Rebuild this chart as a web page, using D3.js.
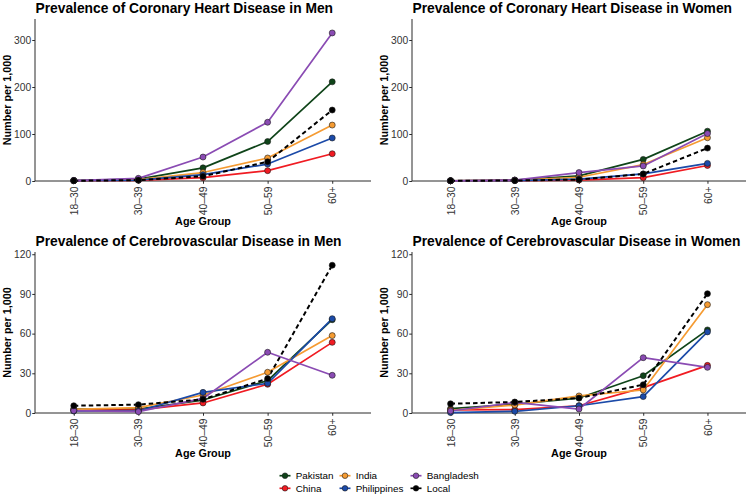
<!DOCTYPE html>
<html>
<head>
<meta charset="utf-8">
<script src="https://cdn.jsdelivr.net/npm/d3@7"></script>
<style>
  html, body { margin: 0; padding: 0; background: #fff; }
  svg { display: block; font-family: "Liberation Sans", Arial, Helvetica, sans-serif; }
</style>
</head>
<body>
<svg id="chart" width="750" height="495"></svg>
<script>
// ---------- data ----------
const ageGroups = ["18\u201330", "30\u201339", "40\u201349", "50\u201359", "60+"];
const seriesNames = ["Pakistan", "China", "India", "Philippines", "Bangladesh", "Local"];
const seriesColors = ["#0f4419", "#f01b22", "#f59b32", "#1b4aa8", "#8a4bb3", "#000000"];

const chdYTicks = [0, 100, 200, 300];
const cvdYTicks = [0, 30, 60, 90, 120];

// Coronary heart disease, men (per 1,000)
const chdMenPakistan    = [1, 4, 28, 84, 211];
const chdMenChina       = [0.5, 1.5, 7, 22, 58];
const chdMenIndia       = [1, 3, 18, 49, 119];
const chdMenPhilippines = [1, 2, 13.5, 36, 91.5];
const chdMenBangladesh  = [1, 5.7, 51, 125, 315];
const chdMenLocal       = [0.5, 2, 10, 41, 151];

// Coronary heart disease, women
const chdWomenPakistan    = [0.5, 2, 11, 46, 106];
const chdWomenChina       = [0.5, 1, 2, 7, 33];
const chdWomenIndia       = [0.5, 1.5, 8, 35, 92];
const chdWomenPhilippines = [0.5, 1, 4, 15, 37.5];
const chdWomenBangladesh  = [0.5, 2, 18, 32, 101];
const chdWomenLocal       = [0.5, 1, 3, 15, 70];

// Cerebrovascular disease, men
const cvdMenPakistan    = [3, 3, 9.8, 24.5, 70.5];
const cvdMenChina       = [2, 2.3, 7.6, 21.7, 53.4];
const cvdMenIndia       = [2.8, 4, 13.6, 30.8, 58.5];
const cvdMenPhilippines = [1.5, 1.5, 15.6, 22.4, 71.3];
const cvdMenBangladesh  = [1.8, 1, 11, 45.9, 28.5];
const cvdMenLocal       = [5.5, 6.3, 10.3, 26, 111.7];

// Cerebrovascular disease, women
const cvdWomenPakistan    = [3.3, 6.6, 11.3, 28.2, 62.8];
const cvdWomenChina       = [2.3, 2.5, 5.5, 19.2, 36];
const cvdWomenIndia       = [2, 6, 12.9, 17.4, 81.9];
const cvdWomenPhilippines = [0.3, 1.3, 5.5, 12.4, 61.3];
const cvdWomenBangladesh  = [1.5, 8, 3, 41.8, 34.5];
const cvdWomenLocal       = [7, 8.3, 11.3, 21.4, 90.2];

const panels = [
  { title: "Prevalence of Coronary Heart Disease in Men", ticks: chdYTicks, ymax: 344.7,
    values: [chdMenPakistan, chdMenChina, chdMenIndia, chdMenPhilippines, chdMenBangladesh, chdMenLocal],
    box: { x0: 35, x1: 371, y0: 19, y1: 181 } },
  { title: "Prevalence of Coronary Heart Disease in Women", ticks: chdYTicks, ymax: 344.7,
    values: [chdWomenPakistan, chdWomenChina, chdWomenIndia, chdWomenPhilippines, chdWomenBangladesh, chdWomenLocal],
    box: { x0: 412, x1: 746, y0: 19, y1: 181 } },
  { title: "Prevalence of Cerebrovascular Disease in Men", ticks: cvdYTicks, ymax: 121.7,
    values: [cvdMenPakistan, cvdMenChina, cvdMenIndia, cvdMenPhilippines, cvdMenBangladesh, cvdMenLocal],
    box: { x0: 35, x1: 371, y0: 252, y1: 413 } },
  { title: "Prevalence of Cerebrovascular Disease in Women", ticks: cvdYTicks, ymax: 121.7,
    values: [cvdWomenPakistan, cvdWomenChina, cvdWomenIndia, cvdWomenPhilippines, cvdWomenBangladesh, cvdWomenLocal],
    box: { x0: 412, x1: 746, y0: 252, y1: 413 } }
];

const svg = d3.select("#chart");
const axisColor = "#2b2b2b";
const tickTextColor = "#333333";

panels.forEach(p => {
  const b = p.box;
  const x = d3.scalePoint().domain(ageGroups).range([b.x0, b.x1]).padding(0.6);
  const y = d3.scaleLinear().domain([0, p.ymax]).range([b.y1, b.y0]);
  const g = svg.append("g");

  // title
  g.append("text")
    .attr("x", b.x0 + 0.5).attr("y", b.y0 - 6.3)
    .attr("font-size", 13.8).attr("font-weight", "bold").attr("fill", "#000")
    .text(p.title);

  // y axis
  const ya = g.append("g").attr("transform", `translate(${b.x0},0)`)
    .call(d3.axisLeft(y).tickValues(p.ticks).tickSize(2.75).tickPadding(1).tickFormat(d3.format("d")));
  ya.select(".domain").attr("stroke", axisColor).attr("stroke-width", 1).attr("d", `M0,${b.y1}V${b.y0}`);
  ya.selectAll(".tick line").attr("stroke", axisColor);
  ya.selectAll(".tick text").attr("font-size", 10.3).attr("fill", tickTextColor)
    .attr("font-family", "Liberation Sans, Arial, sans-serif");

  // x axis
  const xa = g.append("g").attr("transform", `translate(0,${b.y1})`)
    .call(d3.axisBottom(x).tickSize(2.75).tickPadding(2));
  xa.select(".domain").attr("stroke", axisColor).attr("stroke-width", 1).attr("d", `M${b.x0},0H${b.x1}`);
  xa.selectAll(".tick line").attr("stroke", axisColor);
  xa.selectAll(".tick text")
    .attr("font-size", 10.3).attr("fill", tickTextColor)
    .attr("font-family", "Liberation Sans, Arial, sans-serif")
    .attr("transform", "rotate(-90)")
    .attr("text-anchor", "end")
    .attr("dy", "0.35em")
    .attr("x", -5.5).attr("y", 0);

  // axis titles
  g.append("text")
    .attr("x", (b.x0 + b.x1) / 2).attr("y", b.y1 + 43.5)
    .attr("text-anchor", "middle").attr("font-size", 10.8).attr("font-weight", "bold")
    .text("Age Group");
  g.append("text")
    .attr("transform", `translate(${b.x0 - 24},${(b.y0 + b.y1) / 2}) rotate(-90)`)
    .attr("text-anchor", "middle").attr("font-size", 10.8).attr("font-weight", "bold")
    .text("Number per 1,000");

  // lines
  const line = d3.line().x((d, i) => x(ageGroups[i])).y(d => y(d));
  p.values.forEach((vals, si) => {
    const isLocal = seriesNames[si] === "Local";
    g.append("path")
      .attr("d", line(vals))
      .attr("fill", "none")
      .attr("stroke", seriesColors[si])
      .attr("stroke-width", isLocal ? 2 : 1.7)
      .attr("stroke-dasharray", isLocal ? "4.5,3" : null)
      .attr("stroke-linejoin", "round");
  });
  // points
  p.values.forEach((vals, si) => {
    g.selectAll(null).data(vals).enter().append("circle")
      .attr("cx", (d, i) => x(ageGroups[i]))
      .attr("cy", d => y(d))
      .attr("r", 3)
      .attr("fill", seriesColors[si])
      .attr("stroke", "#1a1a1a")
      .attr("stroke-width", 0.6);
  });
});

// legend (column-wise fill, 2 rows)
const legendCols = [285, 345, 416];
const legendRows = [475.7, 488.3];
seriesNames.forEach((name, i) => {
  const cx = legendCols[Math.floor(i / 2)];
  const cy = legendRows[i % 2];
  const lg = svg.append("g");
  lg.append("line").attr("x1", cx - 5.5).attr("x2", cx + 5.5).attr("y1", cy).attr("y2", cy)
    .attr("stroke", seriesColors[i]).attr("stroke-width", 1.7);
  lg.append("circle").attr("cx", cx).attr("cy", cy).attr("r", 2.8)
    .attr("fill", seriesColors[i]).attr("stroke", "#1a1a1a").attr("stroke-width", 0.6);
  lg.append("text").attr("x", cx + 10.7).attr("y", cy).attr("dy", "0.35em")
    .attr("font-size", 9.9).attr("fill", "#000").text(name);
});
</script>
</body>
</html>
